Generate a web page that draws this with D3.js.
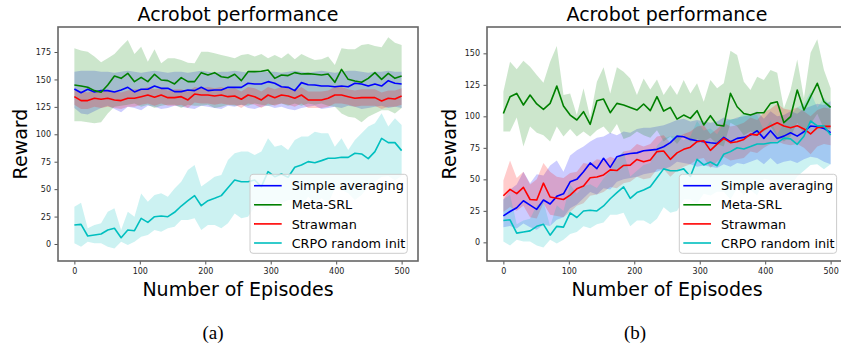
<!DOCTYPE html>
<html><head><meta charset="utf-8">
<script src="https://cdn.jsdelivr.net/npm/d3@7"></script>
<style>body{margin:0;background:#fff;} svg{display:block;}</style>
</head><body>
<svg id="c" width="841" height="347"></svg>
<script>
// ---------- data ----------
const episodes = d3.range(50).map(i => i * 500 / 49);
const xTicks = [0, 100, 200, 300, 400, 500];
const yTicksA = [0, 25, 50, 75, 100, 125, 150, 175];
const yTicksB = [0, 25, 50, 75, 100, 125, 150];
const seriesNames = ["Simple averaging", "Meta-SRL", "Strawman", "CRPO random init"];
const seriesColors = ["#0000ff", "#008000", "#ff0000", "#00bfbf"];

// panel (a)
const avgA = [141.3,137.9,141.0,138.6,139.8,139.8,138.6,140.4,142.8,138.6,141.0,141.0,144.0,141.9,141.9,138.9,138.9,140.4,139.8,142.8,139.8,140.4,140.4,142.8,142.8,142.8,146.5,145.9,145.9,148.0,146.5,143.4,142.8,139.8,147.1,145.2,144.9,144.0,144.0,143.4,144.0,143.4,146.5,145.9,144.0,145.9,144.0,148.9,146.5,145.9];
const avgA_hi = [157,158,158,158,157,157,156,157,158,157,156,157,158,157,156,157,157,156,157,158,157,156,157,157,158,157,156,157,158,157,157,156,157,158,157,156,157,158,157,156,157,158,158,157,156,157,157,158,157,157];
const avgA_lo = [124,119,118,121,124,126,123,120,125,124,122,126,125,123,124,126,125,124,123,126,125,124,123,126,125,127,124,123,125,126,124,125,123,122,124,125,126,123,124,125,124,126,125,123,124,125,126,124,125,124];
const metaA = [145.0,144.0,142.8,139.8,138.3,145.0,153.1,151.0,155.6,148.0,151.9,148.0,154.7,149.5,148.9,145.9,151.6,148.0,148.0,156.2,154.1,156.2,152.5,151.6,154.7,148.9,157.1,157.1,157.4,158.6,151.0,154.1,153.5,156.2,155.0,155.3,154.7,154.1,155.0,147.4,159.2,150.1,148.6,147.4,151.0,156.2,150.1,155.6,151.0,153.1];
const metaA_hi = [178.4,176.3,175.3,170.8,165.6,169.3,173.2,179.9,186.0,173.2,179.9,166.2,177.5,164.7,169.3,169.3,167.7,165.3,164.7,175.3,175.3,173.8,172.3,170.8,169.3,172.3,173.2,170.8,173.2,169.3,172.3,169.3,173.8,168.4,173.2,170.2,167.7,168.4,170.8,163.2,178.4,177.5,177.5,181.4,182.3,180.5,179.3,188.4,183.5,181.4];
const metaA_lo = [112,112,111,110,111,119,125,126,127,128,125,127,124,126,127,127,124,127,126,126,127,124,125,127,126,127,126,128,127,126,127,128,126,128,126,128,127,128,126,125,119,116,115,111,116,119,122,122,119,124];
const strawA = [134.3,130.7,130.7,132.8,131.9,132.8,131.3,130.7,132.8,132.8,134.3,135.8,133.7,135.8,133.4,133.4,134.3,131.3,136.7,135.8,135.8,134.9,135.8,134.3,134.9,131.9,135.8,134.3,131.3,135.8,133.4,135.8,134.9,132.8,135.8,131.3,131.3,131.3,132.8,135.8,135.8,134.3,132.8,133.4,133.4,133.4,130.4,132.8,132.2,134.9];
const strawA_hi = [141,139,138,140,139,140,139,138,140,141,141,143,141,142,140,141,141,139,143,142,143,142,143,141,142,139,143,142,139,143,141,143,142,140,143,139,139,139,140,143,143,141,140,141,141,141,138,140,140,142];
const strawA_lo = [127,123,123,125,124,125,124,123,125,125,127,128,126,128,126,126,127,124,129,128,128,127,128,127,127,124,128,127,124,128,126,128,127,125,128,124,124,124,125,128,128,127,125,126,126,126,123,125,125,127];
const crpo = [17.3,17.9,7.3,8.2,9.1,12.7,14.3,5.7,12.7,12.1,23.4,19.7,24.9,25.5,24.9,28.9,34.6,39.5,44.1,34.9,39.5,41.6,44.1,51.3,58.3,56.8,56.8,58.3,52.3,65.9,61.4,63.8,60.8,69.9,72.0,75.1,74.1,76.0,78.1,78.1,79.0,79.0,82.7,82.1,77.8,84.2,96.3,92.4,92.4,85.1];
const crpo_hi = [34,37.7,14.3,17.3,18.8,29.5,32.5,12.7,29.5,24.9,46,38.6,44.7,46.2,43.1,50.7,56.8,67.5,72,52.3,56.8,61.4,62.9,76.6,82.7,84.2,84.2,81.1,84.2,96.3,88.7,90.3,85.7,94.8,97.9,97.9,102.4,100.9,100.9,88.7,96.3,85.7,94.8,100.9,107,110,119.1,107,114.6,108.5];
const crpo_lo = [0.6,-2.5,2.1,0.6,0.6,-2.5,-4,2.1,-1,2.1,6.7,8.2,12.7,11.2,14.3,15.8,21.9,21.9,23.4,12.7,17.3,17.3,14.3,18.8,27.9,23.4,24.9,34,34,31,38.6,37.1,40.1,40.1,34,43.1,37.1,41.6,37.1,50.7,49.2,46.2,40.1,44.7,52.3,56.8,61.4,62,58,62];

// panel (b)
const avgB = [21,24.5,27.5,33,29.6,26.2,33.6,30.4,36.5,38.5,48,50,56,63,58.5,66.7,59.5,68,69.5,70.5,71,72.7,73.2,73.8,75.9,79.1,84.3,83.8,81.7,80.6,79.9,79.1,78.5,83.3,79.9,82.5,83.3,85.1,88.6,82.5,88.6,82.5,84.3,87,84.3,87.8,92.3,91.8,90.4,87];
const avgB_hi = [34,42,46,56,47,54,53,61,65,56,69,73,76,80,83,84,87,85,88,87,90,91,91,92,93,95,97,98,96,97,96,95,96,99,97,99,100,101,104,98,104,100,101,104,102,106,108,110,109,112];
const avgB_lo = [12,13,11,15,12,10,14,13,18,20,27,30,35,40,38,43,42,48,50,51,52,54,55,56,58,60,64,63,62,60,61,60,59,62,60,63,62,64,66,62,67,62,64,65,63,66,68,67,64,62];
const metaB = [102.3,115.6,118.2,109,116.9,109.8,105.5,110.3,124,108.2,101,97.1,103.7,93.6,112.4,113.7,102.9,110.3,109,107.1,105,109.8,104.5,115.6,104.2,107.1,97.8,101,98.4,104.5,93.1,100.5,93.1,92.3,118.2,107.6,102.3,101,102.9,102.9,110.3,111.6,95,99.7,120.9,105,115.6,126.2,111.6,107.1];
const metaB_hi = [119.5,143.4,137.3,144.2,139.4,132.8,126.7,143.4,155.8,116.9,118.2,101,122.2,99,127.5,138.9,118.2,138.9,135.4,130.1,116.9,130.1,121.4,129.3,116.9,124.8,116.9,128.8,118.2,126.2,111.6,128.8,122.2,126.2,152.1,148.7,127.5,120.9,131.5,128.8,136.7,134.6,106.3,120.9,145.2,114.3,150.5,161.1,136.7,122.2];
const metaB_lo = [88,88,99,76,92,87,85,80,92,84,90,84,88,84,89,92,86,94,82,84,88,85,83,89,80,84,78,85,80,82,80,83,78,76,95,92,85,88,86,88,92,84,80,84,95,86,94,102,90,90];
const strawB = [37,42,38.7,43.6,34,33.6,47,36,35,34,37.5,42.5,44.7,51.3,51.9,53.5,57.5,57,61,61.3,65.8,64,65.4,72,72.5,65.9,71,73.8,75.5,79.9,80.6,73,78,82.5,79.1,79.9,81.7,85.9,85.1,89.6,92.3,94.9,92.3,91,92.5,90,86,91,92,92];
const strawB_hi = [49,65,51,56,46,50,63,56,52,51,55,56,63,62,66,65,68,66,72,73,78,76,78,84,85,79,83,86,88,92,93,86,90,95,92,93,95,99,97,103,106,110,106,105,107,104,100,105,107,106];
const strawB_lo = [24,28,25,29,20,19,31,22,21,20,24,29,31,37,38,40,44,43,47,48,52,50,51,58,58,52,57,60,62,66,67,59,64,68,65,66,67,72,71,75,78,80,78,77,78,75,70,76,78,77];

// ---------- drawing ----------
const svg = d3.select("#c");
const FONT = "DejaVu Sans, sans-serif";

const panels = [
  { left: 58, right: 418, top: 27, bottom: 261, yDomain: [-15.5, 197.8], yTicks: yTicksA,
    series: [[avgA, avgA_lo, avgA_hi], [metaA, metaA_lo, metaA_hi], [strawA, strawA_lo, strawA_hi], [crpo, crpo_lo, crpo_hi]],
    legendX: 250, caption: "(a)", captionX: 213 },
  { left: 487, right: 847, top: 27, bottom: 261, yDomain: [-14.8, 170.9], yTicks: yTicksB,
    series: [[avgB, avgB_lo, avgB_hi], [metaB, metaB_lo, metaB_hi], [strawB, strawB_lo, strawB_hi], [crpo, crpo_lo, crpo_hi]],
    legendX: 679.3, caption: "(b)", captionX: 635 }
];

panels.forEach(p => {
  const x = d3.scaleLinear().domain([-25, 525]).range([p.left, p.right]);
  const y = d3.scaleLinear().domain(p.yDomain).range([p.bottom, p.top]);
  const g = svg.append("g");

  // bands
  p.series.forEach((s, k) => {
    const area = d3.area().x((d, i) => x(episodes[i])).y0((d, i) => y(s[1][i])).y1((d, i) => y(s[2][i]));
    g.append("path").attr("d", area(s[0])).attr("fill", seriesColors[k]).attr("fill-opacity", 0.2).attr("stroke", "none");
  });
  // lines
  p.series.forEach((s, k) => {
    const line = d3.line().x((d, i) => x(episodes[i])).y(d => y(d));
    g.append("path").attr("d", line(s[0])).attr("fill", "none").attr("stroke", seriesColors[k])
      .attr("stroke-width", 1.6).attr("stroke-linejoin", "round");
  });

  // axes
  const xa = g.append("g").attr("transform", `translate(0,${p.bottom})`)
    .call(d3.axisBottom(x).tickValues(xTicks).tickSize(3.5).tickPadding(3.5));
  const ya = g.append("g").attr("transform", `translate(${p.left},0)`)
    .call(d3.axisLeft(y).tickValues(p.yTicks).tickSize(3.5).tickPadding(3.5));
  [xa, ya].forEach(a => {
    a.select(".domain").remove();
    a.selectAll(".tick line").attr("stroke", "#555").attr("stroke-width", 1);
    a.selectAll(".tick text").attr("font-family", FONT).attr("font-size", "8px").attr("fill", "#222");
  });

  // frame
  g.append("rect").attr("x", p.left).attr("y", p.top).attr("width", p.right - p.left).attr("height", p.bottom - p.top)
    .attr("fill", "none").attr("stroke", "#666").attr("stroke-width", 1.6);

  const cx = (p.left + p.right) / 2;
  g.append("text").attr("x", cx).attr("y", 20.7).attr("text-anchor", "middle")
    .attr("font-family", FONT).attr("font-size", "19px").attr("fill", "#000").text("Acrobot performance");
  g.append("text").attr("x", cx).attr("y", 296).attr("text-anchor", "middle")
    .attr("font-family", FONT).attr("font-size", "19px").attr("fill", "#000").text("Number of Episodes");
  g.append("text").attr("transform", `translate(${p.left - 31.5},${(p.top + p.bottom) / 2}) rotate(-90)`)
    .attr("text-anchor", "middle").attr("font-family", FONT).attr("font-size", "19px").attr("fill", "#000").text("Reward");

  // legend
  const lx = p.legendX, ly = 174.3;
  const lg = g.append("g");
  lg.append("rect").attr("x", lx).attr("y", ly).attr("width", 157.3).attr("height", 79).attr("rx", 3)
    .attr("fill", "#fff").attr("fill-opacity", 0.8).attr("stroke", "#ccc").attr("stroke-width", 1);
  seriesNames.forEach((name, k) => {
    const yy = ly + 11.4 + k * 19.1;
    lg.append("line").attr("x1", lx + 4).attr("x2", lx + 31.7).attr("y1", yy).attr("y2", yy)
      .attr("stroke", seriesColors[k]).attr("stroke-width", 1.6);
    lg.append("text").attr("x", lx + 41.7).attr("y", yy + 4.6).attr("font-family", FONT)
      .attr("font-size", "12.8px").attr("fill", "#000").text(name);
  });

  svg.append("text").attr("x", p.captionX).attr("y", 339).attr("text-anchor", "middle")
    .attr("font-family", "Liberation Serif, Times New Roman, serif").attr("font-size", "19px").attr("fill", "#000").text(p.caption);
});
</script>
</body></html>
